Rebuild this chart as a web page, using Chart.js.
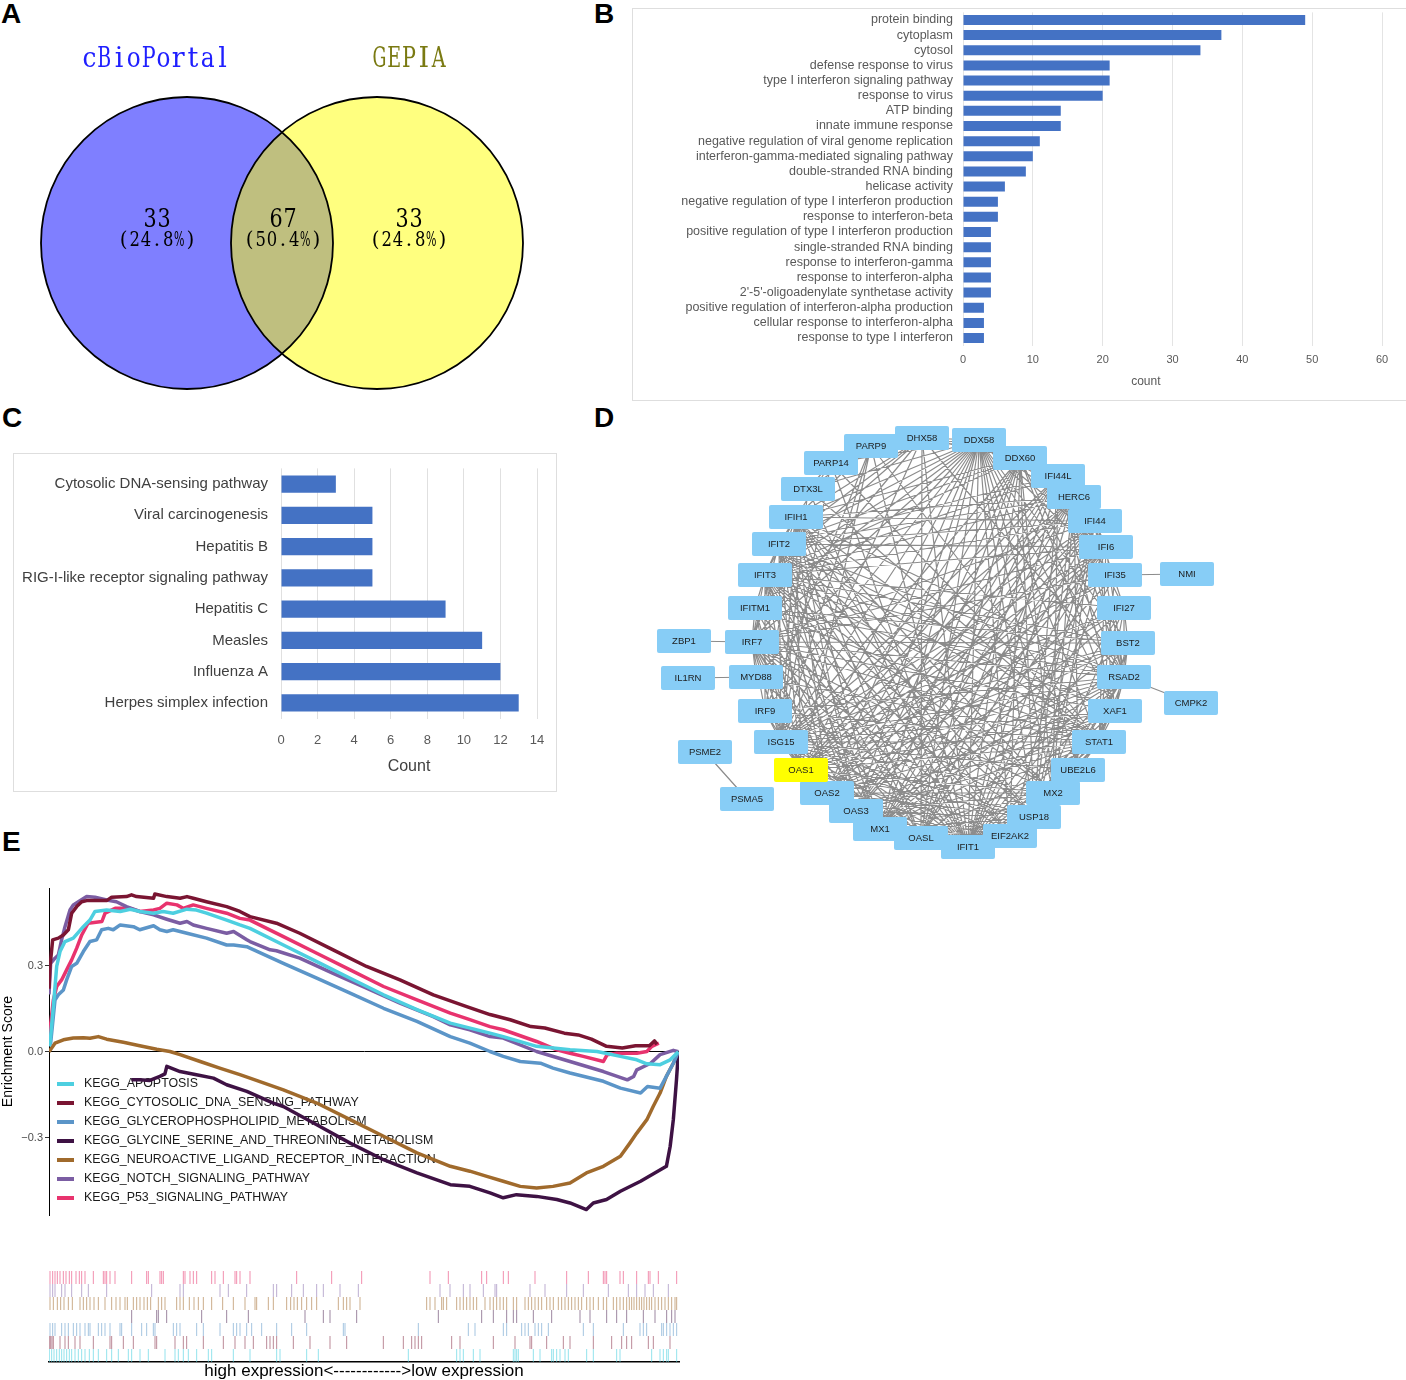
<!DOCTYPE html>
<html>
<head>
<meta charset="utf-8">
<title>Figure</title>
<script src="https://cdn.jsdelivr.net/npm/chart.js@4.4.1/dist/chart.umd.min.js"></script>
<style>
  body { margin: 0; width: 1406px; height: 1380px; position: relative; background: #fff; overflow: hidden; }
  .letter { position: absolute; font: bold 28px 'Liberation Sans', Arial, sans-serif; color: #000; line-height: 1; }
  .frame { position: absolute; border: 1px solid #dedede; box-sizing: border-box; }
  canvas { position: absolute; }
</style>
</head>
<body>
<div class="letter" style="left:1px;top:0px">A</div>
<div class="letter" style="left:594px;top:0px">B</div>
<div class="letter" style="left:2px;top:404px">C</div>
<div class="letter" style="left:594px;top:404px">D</div>
<div class="letter" style="left:2px;top:828px">E</div>
<div class="frame" style="left:632px;top:8px;width:790px;height:393px"></div>
<div class="frame" style="left:13px;top:453px;width:544px;height:339px"></div>
<canvas id="venn" width="580" height="370" style="left:0;top:30px"></canvas>
<canvas id="goChart" width="773" height="390" style="left:633px;top:9px"></canvas>
<canvas id="keggChart" width="541" height="336" style="left:14px;top:454px"></canvas>
<canvas id="network" width="610" height="470" style="left:640px;top:400px"></canvas>
<canvas id="gsea" width="700" height="360" style="left:0;top:870px"></canvas>
<canvas id="rug" width="700" height="118" style="left:0;top:1262px"></canvas>
<script>
// ---- panel A: venn
const vennSets = ['cBioPortal', 'GEPIA'];
const vennCounts = ['33', '67', '33'];
const vennPercents = ['(24.8%)', '(50.4%)', '(24.8%)'];

// ---- panel B: GO terms
const goTerms = ['protein binding', 'cytoplasm', 'cytosol', 'defense response to virus',
  'type I interferon signaling pathway', 'response to virus', 'ATP binding', 'innate immune response',
  'negative regulation of viral genome replication', 'interferon-gamma-mediated signaling pathway',
  'double-stranded RNA binding', 'helicase activity', 'negative regulation of type I interferon production',
  'response to interferon-beta', 'positive regulation of type I interferon production',
  'single-stranded RNA binding', 'response to interferon-gamma', 'response to interferon-alpha',
  "2'-5'-oligoadenylate synthetase activity", 'positive regulation of interferon-alpha production',
  'cellular response to interferon-alpha', 'response to type I interferon'];
const goCounts = [49, 37, 34, 21, 21, 20, 14, 14, 11, 10, 9, 6, 5, 5, 4, 4, 4, 4, 4, 3, 3, 3];

// ---- panel C: KEGG
const keggTerms = ['Cytosolic DNA-sensing pathway', 'Viral carcinogenesis', 'Hepatitis B',
  'RIG-I-like receptor signaling pathway', 'Hepatitis C', 'Measles', 'Influenza A', 'Herpes simplex infection'];
const keggCounts = [3, 5, 5, 5, 9, 11, 12, 13];

// ---- panel D: PPI network (layout coords)
const geneNodes = ['PARP9','DHX58','DDX58','DDX60','IFI44L','HERC6','IFI44','IFI6','IFI35','NMI','IFI27','BST2',
  'RSAD2','CMPK2','XAF1','STAT1','UBE2L6','MX2','USP18','IFIT1','EIF2AK2','OASL','MX1','OAS3','OAS2','OAS1',
  'PSME2','PSMA5','ISG15','IRF9','MYD88','IL1RN','IRF7','ZBP1','IFITM1','IFIT3','IFIT2','IFIH1','DTX3L','PARP14'];
const nodeX = [871,922,979,1020,1058,1074,1095,1106,1115,1187,1124,1128,1124,1191,1115,1099,1078,1053,1034,968,
  1010,921,880,856,827,801,705,747,781,765,756,688,752,684,755,765,779,796,808,831];
const nodeY = [446,438,440,458,476,497,521,547,575,574,608,643,677,703,711,742,770,793,817,847,
  836,838,829,811,793,770,752,799,742,711,677,678,642,641,608,575,544,517,489,463];
const highlightGene = 'OAS1';
// first name = hub, rest = partners
const edgeLists = [
  'DDX58 IFIH1 DHX58 IRF7 ISG15 IFIT1 IFIT2 IFIT3 OAS1 OAS2 OAS3 OASL MX1 MX2 RSAD2 STAT1 IRF9 MYD88 EIF2AK2 USP18 IFI44 IFI44L HERC6 DDX60 IFI6 IFI35 XAF1 BST2 IFITM1 UBE2L6 PARP14 PARP9 DTX3L',
  'IFIT1 IFIT2 IFIT3 ISG15 OAS1 OAS2 OAS3 OASL MX1 MX2 RSAD2 IFI44 IFI44L IFI6 IFI27 IFI35 HERC6 DDX60 STAT1 IRF7 IRF9 USP18 EIF2AK2 XAF1 BST2 IFITM1 UBE2L6 IFIH1 DHX58 PARP9 PARP14 DTX3L MYD88',
  'ISG15 IFIT2 IFIT3 OAS1 OAS2 OAS3 OASL MX1 MX2 RSAD2 IFI44 IFI44L IFI6 IFI27 IFI35 HERC6 DDX60 STAT1 IRF7 IRF9 USP18 EIF2AK2 XAF1 BST2 IFITM1 UBE2L6 IFIH1 DHX58 PARP9 PARP14 DTX3L',
  'OAS1 OAS2 OAS3 OASL MX1 MX2 RSAD2 IFIT2 IFIT3 IFI44 IFI44L IFI6 IFI27 IFI35 HERC6 DDX60 STAT1 IRF7 IRF9 USP18 EIF2AK2 XAF1 BST2 IFITM1 IFIH1 PARP9',
  'RSAD2 IFIT2 IFIT3 OAS2 OAS3 OASL MX1 MX2 IFI44 IFI44L IFI6 IFI27 HERC6 DDX60 STAT1 IRF7 IRF9 USP18 EIF2AK2 XAF1 BST2 IFITM1 IFIH1 DHX58 CMPK2',
  'MX1 IFIT2 IFIT3 OAS2 OAS3 OASL MX2 IFI44 IFI44L IFI6 IFI27 IFI35 HERC6 DDX60 STAT1 IRF7 IRF9 USP18 EIF2AK2 XAF1 BST2 IFITM1 IFIH1',
  'STAT1 IRF9 IRF7 IFIT2 IFIT3 OAS2 OAS3 OASL MX2 IFI6 IFI35 IFI27 BST2 USP18 EIF2AK2 IFITM1 IFIH1 PARP9 PARP14 DTX3L MYD88 XAF1 UBE2L6',
  'IRF7 IRF9 IFIT2 IFIT3 OAS2 OAS3 OASL MX2 IFI44 IFI6 IFI35 USP18 EIF2AK2 IFIH1 DHX58 MYD88 BST2 IFITM1 XAF1 ZBP1',
  'IFIT3 IFIT2 OAS2 OAS3 OASL MX2 IFI44 IFI44L IFI6 IFI27 HERC6 DDX60 USP18 EIF2AK2 XAF1 BST2 IFITM1 IFIH1 DHX58 IRF9',
  'IFIT2 OAS2 OAS3 OASL MX2 IFI44 IFI44L IFI6 HERC6 DDX60 USP18 EIF2AK2 XAF1 IFIH1 DHX58',
  'OAS2 OAS3 OASL MX2 IFI44 IFI44L IFI6 IFI27 HERC6 DDX60 USP18 EIF2AK2 XAF1 BST2 IFIH1',
  'OAS3 OASL MX2 IFI44 IFI44L IFI6 HERC6 DDX60 USP18 EIF2AK2 XAF1 IFIH1',
  'OASL MX2 IFI44 IFI44L IFI6 HERC6 DDX60 USP18 EIF2AK2 IFIH1 DHX58',
  'IFIH1 DHX58 DDX60 EIF2AK2 MX2 IFI44 HERC6 USP18 IRF9 PARP9 PARP14',
  'IFI44 IFI44L HERC6 DDX60 IFI6 IFI27 USP18 MX2 XAF1 EIF2AK2',
  'IFI44L HERC6 DDX60 IFI6 IFI27 USP18 MX2 XAF1',
  'HERC6 DDX60 USP18 MX2 IFI6 UBE2L6',
  'USP18 MX2 IFI6 IFI27 XAF1 EIF2AK2 DDX60',
  'PARP9 DTX3L PARP14 DHX58 IRF9',
  'PARP14 DTX3L',
  'UBE2L6 MX2 EIF2AK2',
  'BST2 IFITM1 IFI27 XAF1',
  'EIF2AK2 MX2 DDX60 XAF1',
  'DDX60 DHX58 MX2 XAF1',
  'IFI35 NMI',
  'MYD88 IL1RN',
  'PSME2 PSMA5'
];

// ---- panel E: GSEA running enrichment scores [rank %, ES]
const gseaNames = ['KEGG_APOPTOSIS', 'KEGG_CYTOSOLIC_DNA_SENSING_PATHWAY', 'KEGG_GLYCEROPHOSPHOLIPID_METABOLISM',
  'KEGG_GLYCINE_SERINE_AND_THREONINE_METABOLISM', 'KEGG_NEUROACTIVE_LIGAND_RECEPTOR_INTERACTION',
  'KEGG_NOTCH_SIGNALING_PATHWAY', 'KEGG_P53_SIGNALING_PATHWAY'];
const apoptosisES = [[0,0.02],[0.16,0.03],[0.69,0.158],[1.22,0.298],[1.75,0.35],[2.54,0.385],[3.86,0.397],[5.45,0.437],[6.5,0.46],[7.3,0.49],[9.15,0.495],[11.3,0.49],[12.9,0.498],[14.4,0.49],[16.6,0.484],[18.1,0.49],[19.7,0.484],[21.9,0.498],[23.4,0.495],[25,0.484],[28.2,0.46],[30.3,0.443],[31.9,0.431],[37.2,0.373],[42.5,0.315],[47.8,0.257],[53.1,0.199],[58.4,0.147],[63.7,0.1],[70,0.065],[72.1,0.053],[77.4,0.019],[82.7,0.007],[87,0.001],[90.7,-0.016],[93.3,-0.028],[94.9,-0.042],[97,-0.045],[98.6,-0.028],[99.9,0]];
const cytosolicES = [[0,0.22],[0.16,0.298],[0.58,0.391],[1.48,0.397],[2.28,0.408],[3.07,0.426],[3.6,0.484],[4.39,0.507],[5.19,0.524],[5.98,0.528],[9.15,0.528],[9.95,0.54],[12.3,0.542],[13.1,0.548],[13.9,0.542],[16.6,0.536],[16.8,0.551],[18.7,0.542],[20.8,0.536],[21.9,0.542],[22.9,0.536],[25,0.524],[28.2,0.507],[30.3,0.49],[31.9,0.472],[36.1,0.449],[39.8,0.414],[45.1,0.356],[50.4,0.298],[55.7,0.251],[61,0.199],[66.3,0.158],[70,0.13],[73.2,0.112],[76.5,0.088],[78.7,0.083],[81.8,0.065],[84,0.059],[86.1,0.044],[88.5,0.019],[91,0.013],[93.1,0.021],[95.3,0.021],[96.1,0.038],[96.5,0.026]];
const glyceroES = [[0,0.02],[0.26,0.03],[0.95,0.181],[1.48,0.199],[2.28,0.216],[2.8,0.251],[3.6,0.298],[4.4,0.309],[5.45,0.35],[6.5,0.385],[7.57,0.391],[8.36,0.426],[9.4,0.431],[10.2,0.426],[11.3,0.443],[13.4,0.437],[14.4,0.426],[16.6,0.44],[17.6,0.426],[18.7,0.42],[19.7,0.426],[21.9,0.414],[25,0.397],[28.2,0.373],[29.3,0.373],[31.4,0.367],[31.9,0.362],[37.2,0.309],[42.5,0.257],[47.8,0.205],[53.1,0.152],[58.4,0.106],[63.7,0.053],[66.8,0.03],[70,0.001],[72.1,-0.016],[74.8,-0.034],[78,-0.04],[80,-0.057],[82.7,-0.074],[88,-0.103],[90.7,-0.127],[93.9,-0.144],[95,-0.121],[97,-0.127],[98,-0.086],[99.1,-0.04],[99.9,0]];
const glycineES = [[13.1,-0.098],[14.4,-0.098],[16,-0.1],[17.6,-0.086],[18.4,-0.077],[18.7,-0.051],[20.8,-0.069],[23.4,-0.08],[26.1,-0.092],[28.2,-0.115],[31.4,-0.138],[35.6,-0.179],[37.2,-0.191],[42.5,-0.255],[47.8,-0.319],[53.1,-0.377],[58.4,-0.423],[63.7,-0.464],[66.8,-0.47],[70,-0.493],[72.1,-0.51],[74.2,-0.499],[77.4,-0.505],[80.6,-0.516],[82.7,-0.528],[85.3,-0.551],[86.4,-0.528],[88.5,-0.516],[90.7,-0.487],[93.9,-0.452],[98,-0.4],[98.6,-0.33],[99.1,-0.237],[99.6,-0.098],[99.9,0]];
const neuroES = [[0,0],[0.95,0.03],[2.28,0.042],[3.86,0.048],[5.45,0.049],[6.5,0.047],[7.83,0.053],[9.15,0.044],[11.8,0.033],[14.4,0.021],[17.1,0.009],[19.2,0.001],[20.8,-0.01],[24,-0.034],[27.1,-0.057],[30.3,-0.08],[31.9,-0.092],[37.2,-0.133],[42.5,-0.179],[47.8,-0.237],[53.1,-0.295],[58.4,-0.353],[63.7,-0.4],[66.8,-0.417],[69.5,-0.435],[72.1,-0.452],[74.8,-0.47],[77.4,-0.476],[80,-0.47],[82.7,-0.458],[85.3,-0.423],[88,-0.4],[90.7,-0.365],[92.2,-0.319],[93.3,-0.284],[94.9,-0.237],[95.9,-0.191],[97,-0.144],[98,-0.086],[99.1,-0.04],[99.9,0]];
const notchES = [[0,0.2],[0.26,0.309],[0.95,0.327],[1.48,0.338],[2,0.391],[2.54,0.437],[3.33,0.495],[3.86,0.513],[4.66,0.524],[5.98,0.542],[7.3,0.54],[9.15,0.53],[10.7,0.524],[12.3,0.507],[14.4,0.49],[16.6,0.478],[18.7,0.463],[20.8,0.449],[21.9,0.455],[22.9,0.443],[25,0.431],[28.2,0.414],[29.3,0.42],[31.4,0.391],[31.9,0.385],[35.1,0.356],[36.1,0.353],[39.8,0.327],[45.1,0.274],[50.4,0.222],[55.7,0.17],[61,0.123],[63.7,0.094],[66.8,0.077],[70,0.053],[72.1,0.048],[77.4,0.001],[82.7,-0.034],[88,-0.069],[91.8,-0.098],[92.8,-0.086],[93.3,-0.063],[95.5,-0.04],[97,-0.01],[99.1,0.005],[99.9,0]];
const p53ES = [[0,0.05],[0.16,0.077],[0.69,0.181],[1.22,0.228],[2,0.251],[2.8,0.286],[3.6,0.321],[4.4,0.362],[5.2,0.408],[6.2,0.449],[8.4,0.455],[8.9,0.484],[10.5,0.501],[12.9,0.501],[14.4,0.49],[16.6,0.495],[17.6,0.501],[18.7,0.519],[20.3,0.513],[21.3,0.501],[22.9,0.513],[25,0.501],[28.2,0.484],[30.3,0.466],[31.9,0.46],[37.2,0.402],[42.5,0.344],[47.8,0.286],[53.1,0.228],[58.4,0.181],[63.7,0.135],[66.8,0.112],[70,0.088],[72.1,0.077],[77.4,0.036],[80.6,0.007],[82.7,-0.005],[84.8,-0.016],[88,-0.034],[88.6,-0.01],[90.1,-0.005],[93.3,-0.005],[94.9,0.001],[95.7,0.019],[96.8,0.03]];

// gene set hit positions in the ranked list (0 .. rankMax)
const rankMax = 1890;
const apoptosisHits = [1,8,15,23,31,38,45,53,61,68,78,88,98,108,121,133,148,173,188,208,238,248,273,298,348,378,388,403,418,443,478,488,553,603,683,693,773,808,1078,1223,1233,1243,1273,1293,1393,1398,1403,1408,1453,1473,1508,1513,1523,1533,1548,1558,1613,1633,1703,1713,1808,1833,1843,1853,1858,1883];
const cytosolicHits = [1,5,9,13,33,48,58,78,93,133,183,188,223,253,318,323,378,403,413,463,523,558,588,613,653,663,673,683,733,783,843,893,1003,1063,1088,1098,1108,1118,1208,1233,1333,1398,1443,1448,1493,1543,1563,1633,1688,1718,1733,1748,1798,1813,1863];
const glyceroHits = [3,11,18,38,48,58,73,83,93,108,118,123,148,158,168,183,213,218,248,278,293,313,318,373,383,393,443,463,513,553,563,573,593,608,638,683,728,773,883,888,1108,1258,1278,1363,1373,1418,1428,1438,1458,1468,1478,1498,1603,1633,1723,1773,1783,1793,1838,1843,1853,1863,1873,1883];
const glycineHits = [248,323,328,353,458,533,598,768,823,843,923,1168,1298,1333,1373,1393,1403,1453,1508,1593,1623,1673,1703,1733,1783,1818,1853,1868,1878];
const neuroHits = [3,13,25,35,45,58,70,93,103,113,123,135,148,168,188,201,213,228,235,253,263,273,285,295,305,328,338,348,383,393,403,421,435,448,463,488,521,553,588,618,623,658,673,713,725,735,745,758,773,788,803,868,883,893,903,933,1133,1143,1158,1178,1183,1193,1223,1233,1243,1253,1263,1273,1283,1308,1323,1333,1343,1353,1363,1373,1393,1403,1428,1438,1448,1458,1468,1478,1493,1503,1513,1528,1538,1548,1558,1568,1578,1588,1598,1613,1623,1633,1648,1663,1673,1693,1703,1713,1723,1733,1741,1748,1755,1763,1771,1778,1785,1793,1801,1808,1818,1828,1838,1848,1858,1868,1878,1883];
const notchHits = [3,11,18,38,48,68,98,118,173,308,393,403,513,538,593,673,683,728,763,803,823,873,928,1173,1203,1243,1263,1303,1338,1343,1443,1488,1553,1603,1678,1738,1763,1788,1813,1858];
const p53Hits = [3,11,18,25,33,43,51,61,68,81,91,98,108,133,163,168,173,183,198,248,293,298,333,338,343,403,408,423,433,443,488,498,523,558,563,573,603,743,848,938,1143,1198,1298,1313,1363,1378,1458,1553,1618,1663,1668,1673,1713,1723,1763,1798,1803,1828,1883];

// ---------------------------------------------------------------
Chart.defaults.animation = false;
Chart.defaults.events = [];
Chart.defaults.font.family = "'Liberation Sans', Arial, sans-serif";
Chart.defaults.plugins.legend.display = false;
Chart.defaults.plugins.tooltip.enabled = false;

// keep the axis boxes at the exact size we ask for
function fixBox(w, h) {
  return function (axis) {
    if (w !== null) axis.width = w;
    if (h !== null) axis.height = h;
    axis.paddingTop = 0; axis.paddingBottom = 0;
    axis.paddingLeft = 0; axis.paddingRight = 0;
  };
}

// ---- A
// venn labels are set in fixed-width cells, like the original CJK font;
// glyphs wider than a cell get squeezed
function monoText(ctx, text, cx, cy, cell) {
  const start = cx - text.length * cell / 2;
  for (let i = 0; i < text.length; i++) {
    const w = ctx.measureText(text[i]).width;
    const k = Math.min(1, cell * 0.94 / w);
    ctx.save();
    ctx.translate(start + cell * (i + 0.5), cy);
    ctx.scale(k, 1);
    ctx.fillText(text[i], 0, 0);
    ctx.restore();
  }
}
const vennText = {
  id: 'vennText',
  afterDatasetsDraw(chart) {
    const {ctx} = chart;
    const x = chart.scales.x, y = chart.scales.y;
    ctx.save();
    ctx.textAlign = 'center';
    ctx.textBaseline = 'middle';
    ctx.font = "27px 'DejaVu Serif', serif";
    const titleX = [156, 409], titleColors = ['#1f1fff', '#7a7a12'];
    vennSets.forEach((s, i) => {
      ctx.fillStyle = titleColors[i];
      monoText(ctx, s, x.getPixelForValue(titleX[i]), y.getPixelForValue(60), 14.8);
    });
    const labelX = [157, 283, 409];
    ctx.fillStyle = '#000';
    vennCounts.forEach((c, i) => {
      ctx.font = "26px 'DejaVu Serif', serif";
      monoText(ctx, c, x.getPixelForValue(labelX[i]), y.getPixelForValue(220), 14);
      ctx.font = "20px 'DejaVu Serif', serif";
      monoText(ctx, vennPercents[i], x.getPixelForValue(labelX[i]), y.getPixelForValue(241), 11.1);
    });
    ctx.restore();
  }
};

new Chart(document.getElementById('venn'), {
  type: 'bubble',
  data: {
    datasets: [
      {data: [{x: 187, y: 243, r: 146}], backgroundColor: 'rgba(0,0,0,0)', borderColor: '#000', borderWidth: 1.8},
      {data: [{x: 377, y: 243, r: 146}], backgroundColor: 'rgba(0,0,0,0)', borderColor: '#000', borderWidth: 1.8},
      {data: [{x: 377, y: 243, r: 146}], backgroundColor: 'rgba(255,255,0,0.5)', borderWidth: 0},
      {data: [{x: 187, y: 243, r: 146}], backgroundColor: 'rgba(0,0,255,0.5)', borderWidth: 0}
    ]
  },
  options: {
    responsive: false,
    layout: {padding: 0, autoPadding: false},
    scales: {
      x: {type: 'linear', min: 0, max: 580, display: false},
      y: {type: 'linear', min: 30, max: 400, reverse: true, display: false}
    }
  },
  plugins: [vennText]
});

// ---- B
new Chart(document.getElementById('goChart'), {
  type: 'bar',
  data: {
    labels: goTerms,
    datasets: [{data: goCounts, backgroundColor: '#4472c4', categoryPercentage: 0.66, barPercentage: 1}]
  },
  options: {
    responsive: false,
    indexAxis: 'y',
    layout: {padding: {top: 3.4, right: 24, left: 0, bottom: 0}, autoPadding: false},
    scales: {
      x: {
        min: 0, max: 60,
        ticks: {stepSize: 10, color: '#595959', font: {size: 11}, padding: 8},
        grid: {color: '#e4e4e4', drawTicks: false},
        border: {display: false},
        title: {display: true, text: 'count                ', color: '#595959', font: {size: 12}, padding: {top: 0, bottom: 10}},
        afterFit: fixBox(null, 53.4)
      },
      y: {
        ticks: {color: '#595959', font: {size: 12.5}, padding: 10, autoSkip: false},
        grid: {display: false, drawTicks: false},
        border: {display: false},
        afterFit: fixBox(330, null)
      }
    }
  }
});

// ---- C
new Chart(document.getElementById('keggChart'), {
  type: 'bar',
  data: {
    labels: keggTerms,
    datasets: [{data: keggCounts, backgroundColor: '#4472c4', categoryPercentage: 0.55, barPercentage: 1}]
  },
  options: {
    responsive: false,
    indexAxis: 'y',
    layout: {padding: {top: 14.4, right: 18, left: 0, bottom: 0}, autoPadding: false},
    scales: {
      x: {
        min: 0, max: 14,
        ticks: {stepSize: 2, color: '#595959', font: {size: 13}, padding: 14},
        grid: {color: '#e0e0e0', drawTicks: false},
        border: {display: false},
        title: {display: true, text: 'Count', color: '#404040', font: {size: 16}, padding: {top: 0, bottom: 14}},
        afterFit: fixBox(null, 71.4)
      },
      y: {
        ticks: {color: '#404040', font: {size: 15}, padding: 13, autoSkip: false},
        grid: {display: false, drawTicks: false},
        border: {display: false},
        afterFit: fixBox(267, null)
      }
    }
  }
});

// ---- D
function nodeImage(name, fill) {
  const c = document.createElement('canvas');
  c.width = 54; c.height = 24;
  const g = c.getContext('2d');
  g.fillStyle = fill;
  g.beginPath();
  if (g.roundRect) g.roundRect(0, 0, 54, 24, 2); else g.rect(0, 0, 54, 24);
  g.fill();
  g.fillStyle = '#1c1c1c';
  g.font = "9.5px 'Liberation Sans', Arial, sans-serif";
  g.textAlign = 'center';
  g.textBaseline = 'middle';
  g.fillText(name, 27, 12.5);
  return c;
}
const nodeIndex = {};
geneNodes.forEach((g, i) => { nodeIndex[g] = i; });
const edgePoints = [];
edgeLists.forEach(line => {
  const names = line.split(' ');
  const hub = nodeIndex[names[0]];
  names.slice(1).forEach(n => {
    const j = nodeIndex[n];
    edgePoints.push({x: nodeX[hub], y: nodeY[hub]}, {x: nodeX[j], y: nodeY[j]}, {x: null, y: null});
  });
});

new Chart(document.getElementById('network'), {
  type: 'scatter',
  data: {
    datasets: [
      {
        data: geneNodes.map((g, i) => ({x: nodeX[i], y: nodeY[i]})),
        pointStyle: geneNodes.map(g => nodeImage(g, g === highlightGene ? '#ffff00' : '#87cdf6')),
        pointRadius: 5
      },
      {
        data: edgePoints,
        showLine: true,
        spanGaps: false,
        borderColor: '#8c8c8c',
        borderWidth: 1.2,
        pointRadius: 0
      }
    ]
  },
  options: {
    responsive: false,
    layout: {padding: 0, autoPadding: false},
    scales: {
      x: {type: 'linear', min: 640, max: 1250, display: false},
      y: {type: 'linear', min: 400, max: 870, reverse: true, display: false}
    }
  }
});

// ---- E
const gseaColors = ['#4dcfe0', '#7a1532', '#5b95c8', '#3e1244', '#a06a2c', '#7b5da3', '#e8336e'];
const gseaSeries = [apoptosisES, cytosolicES, glyceroES, glycineES, neuroES, notchES, p53ES];

const gseaLegend = {
  id: 'gseaLegend',
  beforeDatasetsDraw(chart) {
    const {ctx, chartArea} = chart;
    ctx.save();
    ctx.font = "12.4px 'Liberation Sans', Arial, sans-serif";
    ctx.textBaseline = 'middle';
    chart.data.datasets.forEach((ds, i) => {
      const yy = chartArea.top + 196 + i * 19;
      ctx.fillStyle = ds.borderColor;
      ctx.fillRect(chartArea.left + 8, yy - 2, 17, 4);
      ctx.fillStyle = '#1a1a1a';
      ctx.fillText(ds.label, chartArea.left + 35, yy);
    });
    ctx.restore();
  }
};

new Chart(document.getElementById('gsea'), {
  type: 'scatter',
  data: {
    datasets: gseaSeries.map((s, i) => ({
      label: gseaNames[i],
      data: s.map(p => ({x: p[0], y: p[1]})),
      showLine: true,
      borderColor: gseaColors[i],
      borderWidth: 3.5,
      pointRadius: 0,
      borderJoinStyle: 'round'
    }))
  },
  options: {
    responsive: false,
    layout: {padding: {top: 18, right: 21, bottom: 15, left: 0}, autoPadding: false},
    scales: {
      x: {type: 'linear', min: 0, max: 100, display: false},
      y: {
        min: -0.57, max: 0.572,
        afterBuildTicks(axis) { axis.ticks = [-0.3, 0, 0.3].map(v => ({value: v})); },
        ticks: {
          color: '#4d4d4d', font: {size: 11}, padding: 2,
          callback: v => (v < 0 ? '\u2212' : '') + Math.abs(v).toFixed(1)
        },
        grid: {
          drawOnChartArea: true, tickLength: 4, tickColor: '#333',
          color: c => (c.tick && c.tick.value === 0) ? '#000' : 'rgba(0,0,0,0)'
        },
        border: {display: true, color: '#000', width: 1},
        title: {display: true, text: 'Enrichment Score', color: '#000', font: {size: 14}, padding: 0},
        afterFit: fixBox(49, null)
      }
    }
  },
  plugins: [gseaLegend]
});

// ---- E rug
const rugHits = [apoptosisHits, cytosolicHits, glyceroHits, glycineHits, neuroHits, notchHits, p53Hits];
const rugColors = ['rgba(77,208,225,0.6)', 'rgba(122,21,50,0.5)', 'rgba(91,149,200,0.55)', 'rgba(62,18,68,0.5)',
  'rgba(160,106,44,0.55)', 'rgba(123,93,163,0.5)', 'rgba(232,51,110,0.55)'];

new Chart(document.getElementById('rug'), {
  type: 'scatter',
  data: {
    datasets: rugHits.map((hits, i) => ({
      data: hits.map(h => ({x: h, y: i})),
      pointStyle: 'line',
      rotation: 90,
      pointRadius: 6.5,
      pointBorderWidth: 1,
      pointBorderColor: rugColors[i]
    }))
  },
  options: {
    responsive: false,
    layout: {padding: {top: 9, right: 21, bottom: 0, left: 49}, autoPadding: false},
    scales: {
      x: {
        type: 'linear', min: 0, max: rankMax,
        ticks: {display: false},
        grid: {display: false, drawTicks: false},
        border: {display: true, color: '#000', width: 1.5},
        title: {display: true, text: 'high expression<------------>low expression', color: '#000',
          font: {size: 17, lineHeight: 1}, padding: {top: 1, bottom: 0}}
      },
      y: {type: 'linear', min: -0.5, max: 6.5, display: false}
    }
  }
});
</script>
</body>
</html>
